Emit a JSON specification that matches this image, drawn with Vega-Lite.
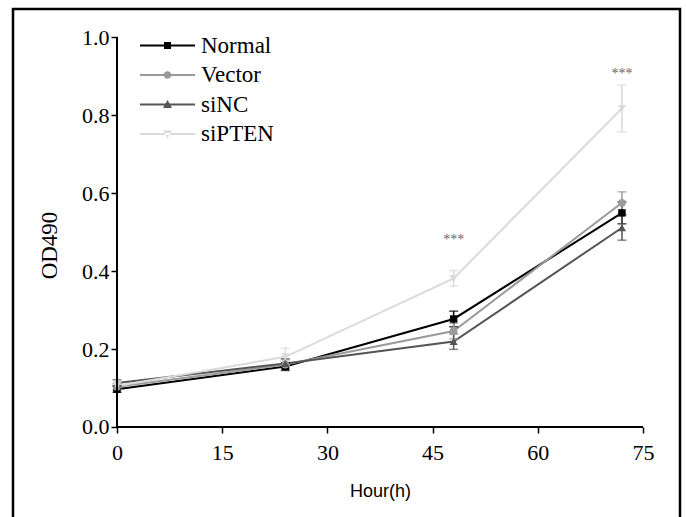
{
  "$schema": "https://vega.github.io/schema/vega-lite/v6.json",
  "autosize": "none",
  "padding": {"left": 13, "top": 9, "right": 6, "bottom": 0},
  "width": 667,
  "height": 510,
  "background": "white",
  "config": {
    "view": {"stroke": "black", "strokeWidth": 2.5},
    "axis": {"grid": false}
  },
  "datasets": {
    "growth": [
      {"series": "Normal", "hour": 0, "od": 0.097, "sd": 0.008},
      {"series": "Normal", "hour": 24, "od": 0.155, "sd": 0.01},
      {"series": "Normal", "hour": 48, "od": 0.277, "sd": 0.02},
      {"series": "Normal", "hour": 72, "od": 0.549, "sd": 0.028},
      {"series": "Vector", "hour": 0, "od": 0.103, "sd": 0.008},
      {"series": "Vector", "hour": 24, "od": 0.16, "sd": 0.012},
      {"series": "Vector", "hour": 48, "od": 0.246, "sd": 0.02},
      {"series": "Vector", "hour": 72, "od": 0.575, "sd": 0.028},
      {"series": "siNC", "hour": 0, "od": 0.113, "sd": 0.008},
      {"series": "siNC", "hour": 24, "od": 0.163, "sd": 0.012},
      {"series": "siNC", "hour": 48, "od": 0.219, "sd": 0.02},
      {"series": "siNC", "hour": 72, "od": 0.511, "sd": 0.032},
      {"series": "siPTEN", "hour": 0, "od": 0.105, "sd": 0.01},
      {"series": "siPTEN", "hour": 24, "od": 0.18, "sd": 0.022},
      {"series": "siPTEN", "hour": 48, "od": 0.381, "sd": 0.02},
      {"series": "siPTEN", "hour": 72, "od": 0.817, "sd": 0.06}
    ],
    "sig": [
      {"hour": 48, "od": 0.48, "label": "***"},
      {"hour": 72, "od": 0.905, "label": "***"}
    ]
  },
  "layer": [
    {
      "data": {"name": "growth"},
      "mark": {"type": "line", "strokeWidth": 2},
      "encoding": {
        "x": {
          "field": "hour", "type": "quantitative", "title": "Hour(h)",
          "scale": {"domain": [-14.829, 80.276], "nice": false, "zero": false},
          "axis": {
            "values": [0, 15, 30, 45, 60, 75], "format": "d", "offset": -92,
            "domain": false, "tickSize": 6, "tickWidth": 1.5, "tickColor": "black",
            "labelFont": "Liberation Serif", "labelFontSize": 22, "labelColor": "black", "labelPadding": 9,
            "title": "Hour(h)", "titleFont": "Liberation Sans", "titleFontSize": 18, "titleFontWeight": "normal",
            "titleColor": "black", "titleX": 367, "titleY": 64, "titleBaseline": "middle", "titleAlign": "center"
          }
        },
        "y": {
          "field": "od", "type": "quantitative", "title": "OD490",
          "scale": {"domain": [-0.2359, 1.0718], "nice": false, "zero": false},
          "axis": {
            "values": [0, 0.2, 0.4, 0.6, 0.8, 1.0], "format": ".1f", "offset": -104,
            "domain": false, "tickSize": 6, "tickWidth": 1.5, "tickColor": "black",
            "labelFont": "Liberation Serif", "labelFontSize": 22, "labelColor": "black", "labelPadding": 2,
            "title": "OD490", "titleFont": "Liberation Serif", "titleFontSize": 23, "titleFontWeight": "normal",
            "titleColor": "black", "titleX": -68, "titleY": 236, "titleAngle": -90,
            "titleBaseline": "middle", "titleAlign": "center"
          }
        },
        "color": {
          "field": "series", "type": "nominal",
          "scale": {"domain": ["Normal", "Vector", "siNC", "siPTEN"], "range": ["#000000", "#9a9a9a", "#555555", "#dadada"]},
          "legend": {
            "title": null, "orient": "none", "legendX": 143, "legendY": 25, "padding": 0,
            "direction": "vertical", "columns": 1,
            "symbolSize": 400, "symbolOffset": 0, "symbolStrokeWidth": 0,
            "labelOffset": 22, "rowPadding": 5.5,
            "labelFont": "Liberation Serif", "labelFontSize": 23, "labelColor": "black",
            "encode": {
              "symbols": {
                "update": {
                  "shape": {"signal": "datum.value === 'Normal' ? 'M-2.75,-0.1H2.75V0.1H-2.75ZM-0.35,-0.35H0.35V0.35H-0.35Z' : datum.value === 'Vector' ? 'M-2.75,-0.1H2.75V0.1H-2.75ZM0.38,0A0.38,0.38 0 1,1 -0.38,0A0.38,0.38 0 1,1 0.38,0Z' : datum.value === 'siNC' ? 'M-2.75,-0.1H2.75V0.1H-2.75ZM0,-0.45L0.45,0.35L-0.45,0.35Z' : 'M-2.75,-0.1H2.75V0.1H-2.75ZM0,0.45L0.45,-0.35L-0.45,-0.35Z'"},
                  "fill": {"signal": "scale('color', datum.value)"},
                  "fillOpacity": {"value": 1},
                  "strokeWidth": {"value": 0}
                }
              }
            }
          }
        }
      }
    },
    {
      "data": {"name": "growth"},
      "mark": {"type": "errorbar", "thickness": 1.5, "ticks": {"size": 9, "thickness": 1.5}},
      "encoding": {
        "x": {"field": "hour", "type": "quantitative", "title": "Hour(h)"},
        "y": {"field": "od", "type": "quantitative", "title": "OD490"},
        "yError": {"field": "sd"},
        "color": {"field": "series", "type": "nominal", "legend": null}
      }
    },
    {
      "data": {"name": "growth"},
      "transform": [{"filter": "datum.series === 'Normal'"}],
      "mark": {"type": "point", "filled": true, "opacity": 1, "size": 55, "shape": "square"},
      "encoding": {
        "x": {"field": "hour", "type": "quantitative", "title": "Hour(h)"},
        "y": {"field": "od", "type": "quantitative", "title": "OD490"},
        "color": {"field": "series", "type": "nominal", "legend": null}
      }
    },
    {
      "data": {"name": "growth"},
      "transform": [{"filter": "datum.series === 'Vector'"}],
      "mark": {"type": "point", "filled": true, "opacity": 1, "size": 60, "shape": "circle"},
      "encoding": {
        "x": {"field": "hour", "type": "quantitative", "title": "Hour(h)"},
        "y": {"field": "od", "type": "quantitative", "title": "OD490"},
        "color": {"field": "series", "type": "nominal", "legend": null}
      }
    },
    {
      "data": {"name": "growth"},
      "transform": [{"filter": "datum.series === 'siNC'"}],
      "mark": {"type": "point", "filled": true, "opacity": 1, "size": 65, "shape": "triangle-up"},
      "encoding": {
        "x": {"field": "hour", "type": "quantitative", "title": "Hour(h)"},
        "y": {"field": "od", "type": "quantitative", "title": "OD490"},
        "color": {"field": "series", "type": "nominal", "legend": null}
      }
    },
    {
      "data": {"name": "growth"},
      "transform": [{"filter": "datum.series === 'siPTEN'"}],
      "mark": {"type": "point", "filled": true, "opacity": 1, "size": 65, "shape": "triangle-down"},
      "encoding": {
        "x": {"field": "hour", "type": "quantitative", "title": "Hour(h)"},
        "y": {"field": "od", "type": "quantitative", "title": "OD490"},
        "color": {"field": "series", "type": "nominal", "legend": null}
      }
    },
    {
      "data": {"name": "sig"},
      "mark": {"type": "text", "fontSize": 14, "font": "Liberation Serif", "color": "#666666", "baseline": "middle"},
      "encoding": {
        "x": {"field": "hour", "type": "quantitative", "title": "Hour(h)"},
        "y": {"field": "od", "type": "quantitative", "title": "OD490"},
        "text": {"field": "label"}
      }
    },
    {
      "data": {"values": [{}]},
      "mark": {"type": "rule", "color": "black", "strokeWidth": 2},
      "encoding": {
        "x": {"datum": 0, "type": "quantitative", "title": "Hour(h)"},
        "y": {"datum": 0, "type": "quantitative", "title": "OD490"},
        "y2": {"datum": 1}
      }
    },
    {
      "data": {"values": [{}]},
      "mark": {"type": "rule", "color": "black", "strokeWidth": 2},
      "encoding": {
        "x": {"datum": 0, "type": "quantitative", "title": "Hour(h)"},
        "x2": {"datum": 75},
        "y": {"datum": 0, "type": "quantitative", "title": "OD490"}
      }
    }
  ]
}
